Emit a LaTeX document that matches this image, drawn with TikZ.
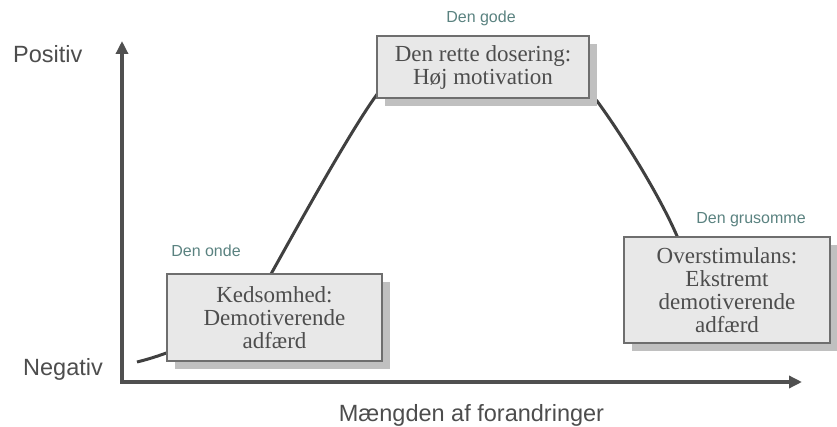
\documentclass[tikz,border=0pt]{standalone}
\usepackage{fontspec}
\setmainfont{Liberation Serif}
\setsansfont{Liberation Sans}
\usetikzlibrary{arrows.meta,shadows}

\definecolor{axisgray}{RGB}{80,80,80}
\definecolor{curvegray}{RGB}{64,64,64}
\definecolor{textgray}{RGB}{77,77,77}
\definecolor{boxfill}{RGB}{232,232,232}
\definecolor{boxline}{RGB}{110,110,110}
\definecolor{shadowgray}{RGB}{192,192,192}
\definecolor{tealgray}{RGB}{90,130,128}

\begin{document}
\begin{tikzpicture}[x=1pt,y=-1pt,
  axis/.style={line width=3.5pt, draw=axisgray, line join=miter},
  curveline/.style={line width=3pt, draw=curvegray},
  axislabel/.style={font=\sffamily\fontsize{23.5}{26}\selectfont, text=textgray, inner sep=0pt},
  zonelabel/.style={font=\sffamily\fontsize{16}{18}\selectfont, text=tealgray, inner sep=0pt, anchor=base},
  statebox/.style={draw=boxline, line width=1.2pt, fill=boxfill, align=center, inner sep=0pt,
    font=\rmfamily\fontsize{23}{23}\selectfont, text=textgray,
    drop shadow={shadow xshift=8pt, shadow yshift=-8pt, fill=shadowgray, opacity=1}},
]
\useasboundingbox (0,0) rectangle (837,427);

% axes
\coordinate (origin) at (122,382);
\coordinate (ytip) at (122,41);
\coordinate (xtip) at (802,382);
\draw[axis, {Triangle[length=13pt,width=12pt]}-{Triangle[length=13pt,width=12pt]}]
  (ytip) -- (origin) -- (xtip);

% motivation curve (runs behind the boxes)
\coordinate (c0) at (137,362);
\coordinate (c1) at (271,274);
\coordinate (c2) at (378,93);
\coordinate (c3) at (597,101);
\coordinate (c4) at (677,236);
\coordinate (c5) at (690,262);
\draw[curveline]
  (c0) .. controls (190,349) and (245,318) .. (c1)
       .. controls (300,222) and (352,128) .. (c2)
       .. controls (395,70) and (579,77) .. (c3)
       .. controls (617,128) and (657,190) .. (c4)
       -- (c5);

% state boxes
\node[statebox, minimum width=212pt, minimum height=62pt] (peak) at (483,67)
  {Den rette dosering:\\Høj motivation};
\node[statebox, minimum width=215pt, minimum height=87pt] (bored) at (274.5,317.5)
  {Kedsomhed:\\Demotiverende\\adfærd};
\node[statebox, minimum width=206pt, minimum height=106pt] (over) at (727,290)
  {Overstimulans:\\Ekstremt\\demotiverende\\adfærd};

% zone labels
\node[zonelabel] (good) at (481,23) {Den gode};
\node[zonelabel] (evil) at (206,257) {Den onde};
\node[zonelabel] (cruel) at (751,224) {Den grusomme};

% axis labels
\node[axislabel, anchor=base west] (pos) at (13,63) {Positiv};
\node[axislabel, anchor=base west] (neg) at (23,375) {Negativ};
\node[axislabel, anchor=base] (xlab) at (471.5,421) {Mængden af forandringer};
\end{tikzpicture}
\end{document}
